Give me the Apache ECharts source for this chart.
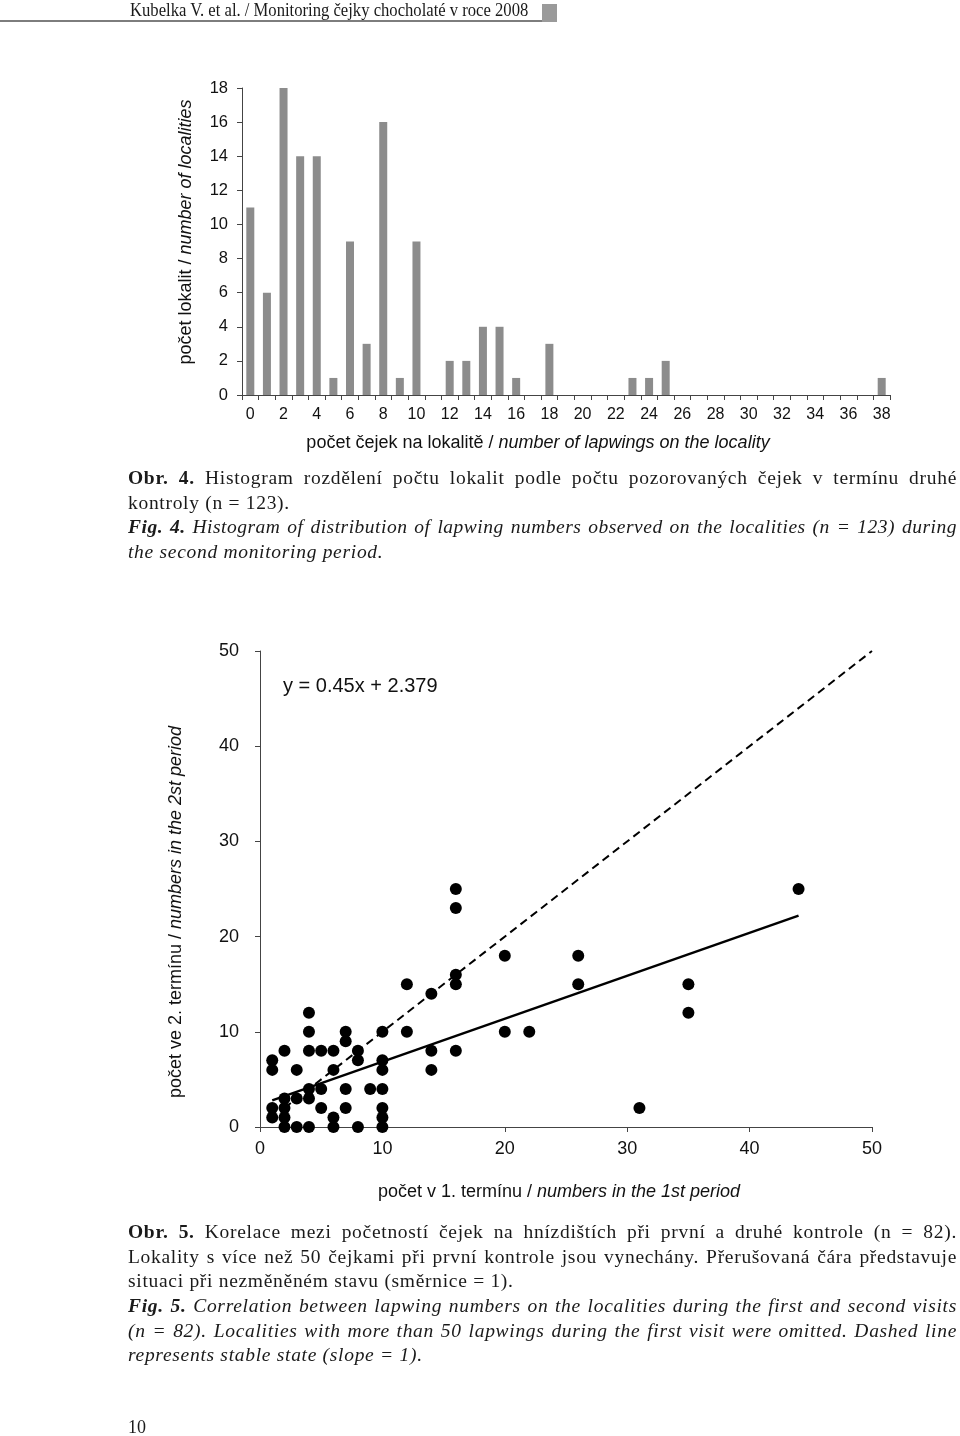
<!DOCTYPE html>
<html>
<head>
<meta charset="utf-8">
<script src="https://cdn.jsdelivr.net/npm/echarts@6/dist/echarts.min.js"></script>
<style>
  html, body { margin: 0; padding: 0; background: #fff; }
  body { width: 960px; height: 1436px; position: relative; overflow: hidden; }
  #chart { position: absolute; left: 0; top: 0; width: 960px; height: 1436px; }
  .serif { font-family: 'Liberation Serif', 'Times New Roman', serif; color: #1a1a1a; }
  .cap { position: absolute; left: 128px; width: 829px; font-size: 19.5px; line-height: 24.7px; white-space: nowrap; letter-spacing: 0.7px; }
  .cap .ln { display: block; height: 24.7px; }
  .cap .just { text-align: justify; text-align-last: justify; }
  .cap .left { text-align: left; }
  .it { font-style: italic; }
  .bd { font-weight: bold; }
</style>
</head>
<body>
<div id="chart"></div>

<div style="position:absolute;left:0;top:20px;width:557px;height:2px;background:#7d7d7d;"></div>
<div style="position:absolute;left:542px;top:4px;width:15px;height:18px;background:#9a9a9a;"></div>
<div class="serif" style="position:absolute;left:130px;top:-1px;font-size:19px;line-height:22px;white-space:nowrap;transform:scaleX(0.875);transform-origin:0 0;">Kubelka V. et al. / Monitoring čejky chocholaté v roce 2008</div>

<div class="cap serif" style="top:466px;">
  <span class="ln just"><span class="bd">Obr. 4.</span> Histogram rozdělení počtu lokalit podle počtu pozorovaných čejek v termínu druhé</span>
  <span class="ln left">kontroly (n = 123).</span>
  <span class="ln just it"><span class="bd">Fig. 4.</span> Histogram of distribution of lapwing numbers observed on the localities (n = 123) during</span>
  <span class="ln left it">the second monitoring period.</span>
</div>

<div class="cap serif" style="top:1220px;">
  <span class="ln just"><span class="bd">Obr. 5.</span> Korelace mezi početností čejek na hnízdištích při první a druhé kontrole (n = 82).</span>
  <span class="ln just">Lokality s více než 50 čejkami při první kontrole jsou vynechány. Přerušovaná čára představuje</span>
  <span class="ln left">situaci při nezměněném stavu (směrnice = 1).</span>
  <span class="ln just it"><span class="bd">Fig. 5.</span> Correlation between lapwing numbers on the localities during the first and second visits</span>
  <span class="ln just it">(n = 82). Localities with more than 50 lapwings during the first visit were omitted. Dashed line</span>
  <span class="ln left it">represents stable state (slope = 1).</span>
</div>

<div class="serif" style="position:absolute;left:128px;top:1416px;font-size:18px;line-height:22px;">10</div>

<script>
// ---------- data ----------
const histCategories = ['0','1','2','3','4','5','6','7','8','9','10','11','12','13','14','15','16','17','18','19',
  '20','21','22','23','24','25','26','27','28','29','30','31','32','33','34','35','36','37','38'];
const histCounts = [11, 6, 18, 14, 14, 1, 9, 3, 16, 1, 9, 0, 2, 2, 4, 4, 1, 0, 3, 0,
  0, 0, 0, 1, 1, 2, 0, 0, 0, 0, 0, 0, 0, 0, 0, 0, 0, 0, 1];

const firstVisit  = [16, 16, 20, 26, 26, 12, 14, 16, 16, 4, 4, 7, 7, 10, 12, 20, 22,
  2, 4, 5, 6, 8, 8, 10, 10, 14, 14, 16, 1, 1, 3, 6, 4, 4, 5, 7, 9, 10,
  2, 3, 2, 1, 1, 2, 5, 7, 10, 10, 6, 2, 3, 4, 6, 8, 10, 31, 35, 35, 44];
const secondVisit = [25, 23, 18, 18, 15, 15, 14, 16, 15, 12, 10, 10, 9, 10, 10, 10, 10,
  8, 8, 8, 8, 8, 7, 7, 6, 8, 6, 8, 7, 6, 6, 6, 4, 3, 4, 4, 4, 4,
  3, 3, 2, 2, 1, 1, 2, 2, 2, 1, 1, 0, 0, 0, 0, 0, 0, 2, 15, 12, 25];

const regressionLine = [[1, 2.8], [44, 22.2]];
const stableLine = [[2, 2], [50, 50]];
const equationText = 'y = 0.45x + 2.379';

// ---------- chart ----------
const sans = "'Liberation Sans', Arial, Helvetica, sans-serif";
const axisColor = '#444';
const textColor = '#111';
const scatterData = firstVisit.map((x, i) => [x, secondVisit[i]]);

const chart = echarts.init(document.getElementById('chart'), null, { renderer: 'canvas' });

function richTitle(a, b, size) {
  return {
    text: '{n|' + a + '}{i|' + b + '}',
    rich: {
      n: { fontSize: size, fontFamily: sans, fill: textColor },
      i: { fontSize: size, fontFamily: sans, fontStyle: 'italic', fill: textColor }
    },
    align: 'center',
    verticalAlign: 'middle'
  };
}

chart.setOption({
  animation: false,
  backgroundColor: 'transparent',
  grid: [
    { left: 242, top: 88, width: 648, height: 307 },
    { left: 260, top: 651, width: 612, height: 476 }
  ],
  xAxis: [
    {
      gridIndex: 0, type: 'category', data: histCategories, boundaryGap: true,
      axisLine: { lineStyle: { color: axisColor, width: 1 } },
      axisTick: { show: true, interval: 0, length: 5, lineStyle: { color: axisColor } },
      axisLabel: { interval: 1, fontSize: 16, fontFamily: sans, color: textColor, margin: 12 },
      splitLine: { show: false }
    },
    {
      gridIndex: 1, type: 'value', min: 0, max: 50, interval: 10,
      axisLine: { show: true, lineStyle: { color: axisColor, width: 1 } },
      axisTick: { show: true, length: 5, lineStyle: { color: axisColor } },
      axisLabel: { fontSize: 18, fontFamily: sans, color: textColor, margin: 13 },
      splitLine: { show: false }
    }
  ],
  yAxis: [
    {
      gridIndex: 0, type: 'value', min: 0, max: 18, interval: 2,
      axisLine: { show: true, lineStyle: { color: axisColor, width: 1 } },
      axisTick: { show: true, length: 5, lineStyle: { color: axisColor } },
      axisLabel: { fontSize: 16.5, fontFamily: sans, color: textColor, margin: 14 },
      splitLine: { show: false }
    },
    {
      gridIndex: 1, type: 'value', min: 0, max: 50, interval: 10,
      axisLine: { show: true, lineStyle: { color: axisColor, width: 1 } },
      axisTick: { show: true, length: 5, lineStyle: { color: axisColor } },
      axisLabel: { fontSize: 18, fontFamily: sans, color: textColor, margin: 21 },
      splitLine: { show: false }
    }
  ],
  series: [
    {
      type: 'bar', xAxisIndex: 0, yAxisIndex: 0, data: histCounts,
      barWidth: 8, itemStyle: { color: '#8c8c8c' }
    },
    {
      type: 'line', xAxisIndex: 1, yAxisIndex: 1, data: stableLine,
      symbol: 'none', lineStyle: { color: '#000', width: 2, type: [8, 5] }, z: 2
    },
    {
      type: 'line', xAxisIndex: 1, yAxisIndex: 1, data: regressionLine,
      symbol: 'none', lineStyle: { color: '#000', width: 2.5 }, z: 2
    },
    {
      type: 'scatter', xAxisIndex: 1, yAxisIndex: 1, data: scatterData,
      symbol: 'circle', symbolSize: 12, itemStyle: { color: '#000', opacity: 1 }, z: 3
    }
  ],
  graphic: [
    { type: 'text', x: 186, y: 232, rotation: Math.PI / 2,
      style: richTitle('počet lokalit / ', 'number of localities', 18) },
    { type: 'text', x: 538, y: 443,
      style: richTitle('počet čejek na lokalitě / ', 'number of lapwings on the locality', 18) },
    { type: 'text', x: 176, y: 912, rotation: Math.PI / 2,
      style: richTitle('počet ve 2. termínu / ', 'numbers in the 2st period', 18) },
    { type: 'text', x: 559, y: 1192,
      style: richTitle('počet v 1. termínu / ', 'numbers in the 1st period', 18) },
    { type: 'text', x: 283, y: 686,
      style: { text: equationText, fontSize: 20, fontFamily: sans, fill: textColor, align: 'left', verticalAlign: 'middle' } }
  ]
});

// keep justified caption lines within their width
document.querySelectorAll('.cap .just').forEach(function (el) {
  const probe = document.createElement('span');
  probe.style.whiteSpace = 'nowrap';
  probe.style.visibility = 'hidden';
  probe.style.position = 'absolute';
  probe.innerHTML = el.innerHTML;
  probe.style.font = getComputedStyle(el).font;
  el.parentNode.appendChild(probe);
  let ls = 0.7;
  probe.style.letterSpacing = ls + 'px';
  while (probe.getBoundingClientRect().width > 815 && ls > -1) {
    ls -= 0.1;
    probe.style.letterSpacing = ls + 'px';
  }
  el.style.letterSpacing = ls + 'px';
  probe.remove();
});
</script>
</body>
</html>
